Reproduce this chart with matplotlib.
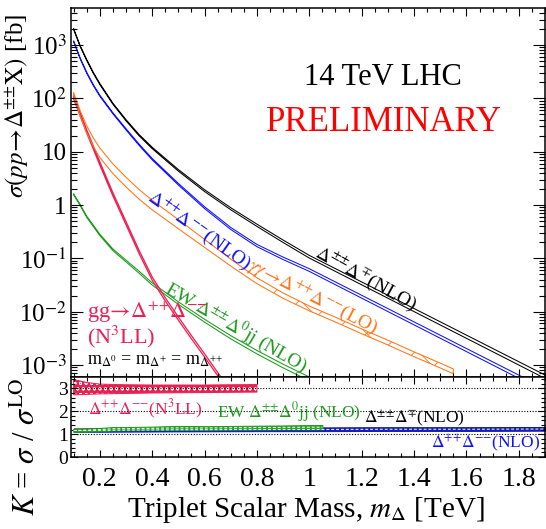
import numpy as np
import matplotlib
matplotlib.use("Agg")
import matplotlib.pyplot as plt
from matplotlib.ticker import MultipleLocator, FixedLocator, FuncFormatter, LogLocator, NullFormatter

plt.rcParams["font.family"] = "serif"
plt.rcParams["font.serif"] = ["Liberation Serif", "DejaVu Serif"]
plt.rcParams["mathtext.fontset"] = "stix"
plt.rcParams["hatch.linewidth"] = 0.6

# cross sections, log10(sigma / fb)
m_black = [0.1, 0.125, 0.15, 0.175, 0.2, 0.25, 0.3, 0.35, 0.4, 0.5, 0.6, 0.7, 0.8, 0.9, 1.0, 1.1, 1.2, 1.4, 1.6, 1.8, 1.9]
lg_black = [3.3, 2.98, 2.72, 2.48, 2.27, 1.9, 1.59, 1.31, 1.07, 0.65, 0.27, -0.07, -0.38, -0.68, -0.97, -1.22, -1.47,
            -1.97, -2.47, -2.97, -3.22]
hw_black = [0.008, 0.008, 0.009, 0.009, 0.01, 0.01, 0.011, 0.012, 0.013, 0.015, 0.017, 0.019, 0.021, 0.023, 0.025,
            0.026, 0.027, 0.029, 0.03, 0.031, 0.032]

m_blue = [0.1, 0.125, 0.15, 0.175, 0.2, 0.25, 0.3, 0.35, 0.4, 0.5, 0.6, 0.7, 0.8, 0.9, 1.0, 1.1, 1.2, 1.4, 1.6, 1.8, 1.9]
lg_blue = [3.07, 2.75, 2.48, 2.25, 2.05, 1.72, 1.42, 1.13, 0.86, 0.39, -0.05, -0.44, -0.76, -1.0, -1.22, -1.47, -1.72,
           -2.22, -2.72, -3.22, -3.47]
hw_blue = [0.008, 0.008, 0.009, 0.009, 0.01, 0.01, 0.011, 0.012, 0.013, 0.015, 0.017, 0.019, 0.021, 0.023, 0.025,
           0.026, 0.027, 0.028, 0.029, 0.03, 0.03]

m_orange = [0.1, 0.125, 0.15, 0.175, 0.2, 0.25, 0.3, 0.35, 0.4, 0.5, 0.6, 0.7, 0.8, 0.9, 1.0, 1.1, 1.2, 1.3, 1.4,
            1.5, 1.55]
lg_orange = [2.08, 1.72, 1.42, 1.18, 0.98, 0.68, 0.43, 0.2, 0.0, -0.36, -0.72, -1.08, -1.42, -1.7, -1.94, -2.15,
             -2.37, -2.58, -2.8, -3.01, -3.12]
hw_orange = [0.03, 0.05, 0.065, 0.08, 0.09, 0.09, 0.09, 0.09, 0.09, 0.085, 0.075, 0.065, 0.055, 0.05, 0.045, 0.045,
             0.045, 0.045, 0.045, 0.045, 0.045]

m_red = [0.1, 0.125, 0.15, 0.2, 0.25, 0.3, 0.35, 0.4, 0.45, 0.5, 0.55, 0.6, 0.65, 0.7, 0.75, 0.8]
lg_red = [2.02, 1.7, 1.38, 0.78, 0.2, -0.34, -0.88, -1.38, -1.77, -2.13, -2.48, -2.82, -3.17, -3.5, -3.82, -4.12]
hw_red = [0.03] * len(m_red)

m_green = [0.1, 0.125, 0.15, 0.2, 0.25, 0.3, 0.35, 0.4, 0.5, 0.6, 0.7, 0.8, 0.9, 1.0, 1.05]
lg_green = [0.2, 0.0, -0.22, -0.56, -0.84, -1.05, -1.26, -1.48, -1.84, -2.17, -2.48, -2.76, -3.02, -3.26, -3.38]
hw_green = [0.01, 0.01, 0.011, 0.013, 0.015, 0.017, 0.019, 0.021, 0.024, 0.027, 0.03, 0.032, 0.034, 0.035, 0.035]

# K factors (lower panel)
mk_red = [0.1, 0.15, 0.2, 0.3, 0.4, 0.5, 0.6, 0.7, 0.8]
k_red_hi = [3.39, 3.26, 3.19, 3.16, 3.15, 3.15, 3.15, 3.16, 3.17]
k_red_lo = [2.72, 2.74, 2.76, 2.78, 2.8, 2.81, 2.82, 2.83, 2.84]

mk_green = [0.1, 0.15, 0.2, 0.25, 0.3, 0.4, 0.5, 0.6, 0.7, 0.8, 0.9, 1.0, 1.05]
k_green_hi = [1.22, 1.24, 1.27, 1.31, 1.31, 1.33, 1.36, 1.35, 1.36, 1.37, 1.38, 1.4, 1.4]
k_green_lo = [1.1, 1.11, 1.13, 1.16, 1.17, 1.18, 1.19, 1.19, 1.2, 1.2, 1.21, 1.21, 1.21]

mk_nlo = [0.1, 0.3, 0.5, 0.8, 1.0, 1.3, 1.6, 1.9]
k_blue_hi = [1.22, 1.24, 1.26, 1.27, 1.28, 1.29, 1.29, 1.30]
k_blue_lo = [1.1, 1.11, 1.12, 1.13, 1.13, 1.14, 1.14, 1.15]
k_black_hi = [1.25, 1.26, 1.27, 1.28, 1.29, 1.3, 1.3, 1.31]
k_black_lo = [1.14, 1.15, 1.15, 1.16, 1.16, 1.17, 1.17, 1.18]

RED = "#ec1f52"
ORANGE = "#ff7416"
GREEN = "#1c9a1c"
BLUE = "#1010ff"
NAVY = "#1b2a7c"

PP = r"{+}{+}"
MM = r"{-}{-}"
PM = r"{\pm}{\pm}"

fig = plt.figure(figsize=(5.46, 5.29), dpi=100)
ax = fig.add_axes([71 / 546, 1 - 377 / 529, 474 / 546, 369 / 529])
axk = fig.add_axes([71 / 546, 1 - 457 / 529, 474 / 546, 80 / 529], sharex=ax)


def band(a, m, lg, hw, color, lw=0.75, hatch_from=None):
    m = np.array(m)
    c = np.array(lg)
    h = np.array(hw)
    lo, hi = 10 ** (c - h), 10 ** (c + h)
    a.fill_between(m, lo, hi, facecolor="none", edgecolor=color, lw=lw)
    if hatch_from is not None:
        a.fill_between(m, lo, hi, where=m >= hatch_from, facecolor="none", edgecolor=color,
                       lw=0, hatch="x")


band(ax, m_green, lg_green, hw_green, GREEN)
band(ax, m_red, lg_red, hw_red, RED, lw=0.9)
band(ax, m_orange, lg_orange, hw_orange, ORANGE, hatch_from=0.8)
band(ax, m_blue, lg_blue, hw_blue, BLUE)
band(ax, m_black, lg_black, hw_black, "black")

ax.set_yscale("log")
ax.set_xlim(0.09, 1.9)
ax.set_ylim(5.95e-4, 4.95e3)


def logfmt(v, pos):
    e = int(round(np.log10(v)))
    if e == 0:
        return "1"
    if e == 1:
        return "10"
    return r"10$^{%d}$" % e


ax.yaxis.set_major_locator(FixedLocator([1e-3, 1e-2, 1e-1, 1, 10, 100, 1e3]))
ax.yaxis.set_major_formatter(FuncFormatter(logfmt))
ax.yaxis.set_minor_locator(LogLocator(base=10, subs=np.arange(2, 10), numticks=20))
ax.yaxis.set_minor_formatter(NullFormatter())
ax.xaxis.set_major_locator(MultipleLocator(0.2))
ax.xaxis.set_minor_locator(MultipleLocator(0.05))
ax.tick_params(axis="x", which="both", labelbottom=False)

for a in (ax, axk):
    a.tick_params(which="both", direction="in", top=True, right=True, width=0.8)
    for s in a.spines.values():
        s.set_linewidth(1.1)
ax.tick_params(axis="y", which="major", length=8.5, labelsize=18, pad=3)
ax.tick_params(axis="y", which="minor", length=4.3)
ax.tick_params(axis="x", which="major", length=5.8)
ax.tick_params(axis="x", which="minor", length=3)

# text in the top panel
ax.text(0.658, 0.813, "14 TeV LHC", transform=ax.transAxes, ha="center", va="center", fontsize=22)
ax.text(0.660, 0.691, "PRELIMINARY", transform=ax.transAxes, ha="center", va="center",
        fontsize=25, color="red")
lab = dict(ha="left", va="center", rotation_mode="anchor", fontsize=14)
ax.text(0.39, 10 ** 0.2, r"$\Delta^{%s}\Delta^{%s}$(NLO)" % (PP, MM), color=BLUE, rotation=-35.5, **lab)
ax.text(1.027, 10 ** -0.87, r"$\Delta^{%s}\Delta^{\mp}$(NLO)" % PM, color="black", rotation=-29, **lab)
ax.text(0.770, 10 ** -1.1, r"$\gamma\gamma\!\rightarrow\!\Delta^{%s}\Delta^{%s}$(LO)" % (PP, MM),
        color=ORANGE, rotation=-27, **lab)
ax.text(0.455, 10 ** -1.53, r"EW $\Delta^{%s}\Delta^{0}$jj (NLO)" % PM, color=GREEN, rotation=-30, **lab)
ax.text(0.152, 10 ** -2.01, r"gg$\!\rightarrow\!\Delta^{%s}\Delta^{%s}$" % (PP, MM), color=RED, ha="left",
        va="center", fontsize=16)
ax.text(0.152, 10 ** -2.48, r"(N$^{3}$LL)", color=RED, ha="left", va="center", fontsize=16)
ax.text(0.152, 10 ** -3.0, r"m$_{\Delta^{0}}$ = m$_{\Delta^{+}}$ = m$_{\Delta^{%s}}$" % PP, color="black",
        ha="left", va="baseline", fontsize=13)

# lower panel
for y in (1, 2, 3):
    axk.axhline(y, color="black", ls=(0, (1, 1.5)), lw=0.8)
axk.fill_between(mk_nlo, k_black_lo, k_black_hi, facecolor="black", edgecolor="black", lw=0.6)
axk.fill_between(mk_nlo, k_blue_lo, k_blue_hi, facecolor=NAVY, edgecolor=BLUE, lw=0.7)
axk.plot(mk_nlo, (np.array(k_blue_lo) + np.array(k_blue_hi)) / 2, color="white", ls=(0, (3, 2)), lw=0.7)
axk.fill_between(mk_green, k_green_lo, k_green_hi, facecolor="#2aa52a", edgecolor=GREEN, lw=0.7)
axk.plot(mk_green, (np.array(k_green_lo) + np.array(k_green_hi)) / 2, color="white", ls=(0, (3, 2)), lw=0.7)
axk.fill_between(mk_red, k_red_lo, k_red_hi, facecolor=RED, edgecolor="white", hatch="ooo", lw=0)
axk.fill_between(mk_red, k_red_lo, k_red_hi, facecolor="none", edgecolor=RED, lw=0.7)

axk.text(0.154, 2.07, r"$\Delta^{%s}\Delta^{%s}$(N$^{3}$LL)" % (PP, MM), color=RED, ha="left", va="center",
         fontsize=12.5)
axk.text(0.646, 1.98, r"EW $\Delta^{%s}\Delta^{0}$jj (NLO)" % PM, color=GREEN, ha="left", va="center",
         fontsize=12.5)
axk.text(1.21, 1.72, r"$\Delta^{%s}\Delta^{\mp}$(NLO)" % PM, color="black", ha="left", va="center",
         fontsize=12.5)
axk.text(1.465, 0.62, r"$\Delta^{%s}\Delta^{%s}$(NLO)" % (PP, MM), color=BLUE, ha="left", va="center",
         fontsize=12.5)

axk.set_ylim(0, 3.5)
axk.yaxis.set_major_locator(FixedLocator([0, 1, 2, 3]))
axk.yaxis.set_minor_locator(MultipleLocator(0.2))
axk.xaxis.set_major_formatter(FuncFormatter(lambda v, p: "%g" % round(v, 2)))
axk.tick_params(axis="y", which="major", length=5, labelsize=14, pad=2)
axk.tick_params(axis="y", which="minor", length=2.8)
axk.tick_params(axis="x", which="major", length=5, labelsize=20, pad=7)
axk.tick_params(axis="x", which="minor", length=2.8)

fig.text(17.5 / 546, 1 - 106 / 529, r"$\sigma(pp\!\rightarrow\!\Delta^{%s}\mathrm{X})$ [fb]" % PM,
         rotation=90, ha="center", va="center", fontsize=18)
fig.text(27 / 546, 1 - 447 / 529, r"$K$ = $\sigma$ / $\sigma^{\mathrm{LO}}$", rotation=90,
         ha="center", va="center", fontsize=22)
fig.text(306 / 546, 1 - 510 / 529, r"Triplet Scalar Mass, $m_{\Delta}$ [TeV]", ha="center", va="center",
         fontsize=21)

fig.savefig("out.png", dpi=100)
